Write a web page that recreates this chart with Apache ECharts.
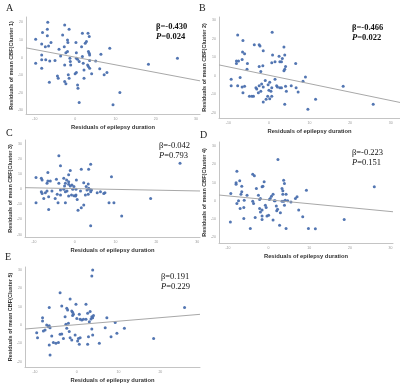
<!DOCTYPE html>
<html>
<head>
<meta charset="utf-8">
<script src="https://cdn.jsdelivr.net/npm/echarts@6/dist/echarts.min.js"></script>
<style>
  html, body { margin: 0; padding: 0; background: #fff; }
  #chart { width: 400px; height: 387px; }
</style>
</head>
<body>
<div id="chart"></div>
<script>
// residuals: [epilepsy duration, mean CBF]
const clusterA = [
  [-6.8, 20.0], [-8.1, 14.2], [-6.9, 16.0], [-6.9, 12.3], [-9.8, 10.4], [-8.3, 7.7], [-7.4, 6.2], [-6.6, 6.6],
  [-6.0, 8.5], [-8.3, 1.5], [-9.8, -3.2], [-8.3, -1.3], [-7.3, -1.3], [-6.3, -1.9], [-5.0, -1.7], [-8.3, -6.0],
  [-6.4, -14.0], [-4.4, -10.4], [-4.2, -11.7], [-4.0, 4.7], [-3.6, 0.9], [-2.7, 6.2], [-2.6, 18.5], [-3.1, 12.8],
  [-1.9, 10.0], [-1.8, 8.5], [-1.5, 16.0], [-1.9, 3.4], [-2.3, 2.8], [-2.6, -4.2], [-2.6, -13.6], [-2.3, -14.9],
  [-1.3, -0.4], [-1.2, -2.3], [-1.1, -4.2], [-1.7, -9.8], [-1.5, -11.7], [0.2, 8.5], [0.3, 2.8], [0.3, -0.4],
  [0.6, -0.9], [1.0, -2.3], [0.0, -9.2], [0.3, -8.5], [0.6, -15.5], [0.7, -17.4], [1.0, -25.5], [1.8, 13.8],
  [1.6, 6.2], [1.8, 0.6], [2.0, -3.2], [2.2, -7.0], [2.5, 8.1], [2.8, 9.1], [3.2, 13.8], [3.5, 11.9],
  [3.3, 3.4], [3.5, 2.5], [3.6, 1.5], [3.6, -1.7], [3.1, -4.2], [3.3, -5.1], [3.6, -6.0], [2.2, -11.7],
  [4.1, -9.2], [5.1, -1.9], [6.1, -6.4], [6.4, 1.9], [7.2, -9.8], [7.9, -8.5], [8.6, 5.3], [9.4, -26.8],
  [11.1, -19.8], [18.2, -3.8], [25.4, -0.4]
];
const clusterB = [
  [-7.7, 22.1], [-6.4, 19.1], [0.8, 23.5], [-3.6, 16.8], [-2.4, 16.8], [-2.2, 16.1], [-1.4, 13.5], [-6.5, 12.9],
  [-6.0, 12.0], [-5.3, 6.7], [-8.0, 8.0], [-7.5, 8.0], [-8.0, 6.7], [-6.6, 8.8], [-7.1, -0.9], [-9.3, -1.8],
  [-9.3, -5.3], [-7.7, -5.3], [-6.6, -6.0], [-6.0, -5.7], [-6.4, -9.2], [-4.8, -11.0], [-4.2, -11.0], [-3.8, -11.0],
  [-3.2, -6.5], [-2.6, -9.2], [-2.0, -8.3], [-3.0, -7.1], [-2.4, -5.3], [-1.8, -4.4], [-1.4, -6.0], [-2.4, 5.0],
  [-2.0, 2.3], [-1.5, 5.5], [-1.4, -14.2], [-0.7, -12.7], [-0.3, -11.0], [0.2, -12.4], [0.7, -11.0], [-0.9, -2.5],
  [0.2, -3.5], [-0.2, -4.8], [0.0, -7.8], [0.7, -6.5], [0.5, -8.3], [0.7, 7.1], [0.9, 11.2], [1.5, 7.6],
  [2.5, 10.6], [2.7, 7.6], [3.1, 7.6], [3.3, 9.4], [3.9, 11.2], [3.7, 15.6], [3.9, 3.5], [3.7, 2.8],
  [4.1, 5.0], [1.9, -5.3], [1.5, -1.8], [2.1, -6.0], [2.7, -6.5], [3.1, -6.5], [4.1, -5.7], [4.3, -8.3],
  [3.9, -15.4], [5.5, -5.3], [6.7, -6.5], [7.2, -8.8], [6.6, 6.7], [8.4, -3.0], [9.0, -0.7], [9.6, -18.1],
  [11.5, -12.7], [18.3, -5.7], [25.7, -15.4], [-5.4, 3.5]
];
const clusterC = [
  [-3.9, 22.2], [-3.5, 15.6], [3.9, 16.7], [3.4, 13.3], [1.6, 13.3], [-1.1, 12.4], [-6.6, 11.1], [-1.5, 9.6],
  [-2.0, 6.2], [-2.7, 7.3], [-1.5, 5.1], [0.4, 6.2], [-0.7, 2.9], [-9.5, 7.8], [-8.2, 7.3], [-8.0, 6.2],
  [-6.8, 4.0], [-6.6, 5.6], [-6.0, 5.6], [-4.5, 6.7], [-3.9, 4.0], [-2.3, 4.0], [-2.5, 2.2], [-1.5, 3.3],
  [-1.1, 2.2], [-0.2, 1.8], [0.3, 0.0], [2.2, 4.4], [2.8, 1.8], [3.3, 3.6], [3.4, 0.7], [3.6, 0.0],
  [4.1, -0.4], [3.9, -1.6], [3.0, -0.4], [1.4, -1.1], [2.6, -3.8], [0.3, -3.8], [0.2, -4.4], [0.6, -6.7],
  [-0.2, -4.2], [2.2, -10.4], [1.6, -12.2], [0.8, -13.8], [-9.5, -8.9], [-8.2, -1.6], [-8.0, -2.7], [-7.6, -6.0],
  [-7.2, -2.2], [-6.4, -4.9], [-6.4, -13.3], [-6.8, -1.1], [-5.6, -1.1], [-4.8, -6.0], [-4.3, -3.3], [-4.1, -8.9],
  [-3.5, -3.8], [-2.7, 0.0], [-2.3, -1.6], [-2.3, -8.9], [-0.8, -3.8], [-1.5, -4.4], [-0.5, 0.0], [3.3, -3.3],
  [3.9, -24.2], [5.5, -2.2], [6.3, -1.6], [7.1, -2.7], [7.4, -2.2], [9.0, 8.4], [8.4, -8.9], [9.6, -8.9],
  [11.5, -17.6], [18.6, -6.0], [25.8, 17.3], [-3.5, -0.4], [-1.9, -1.1]
];
const clusterD = [
  [2.3, 22.8], [-7.8, 16.3], [-3.9, 14.7], [-3.5, 13.8], [-8.0, 9.9], [-7.1, 11.0], [-8.0, 9.2], [-6.6, 8.1],
  [-6.6, 5.0], [-6.8, 3.7], [-9.3, 4.0], [-5.3, 3.1], [-6.0, 0.4], [-7.8, -1.5], [-7.4, 0.0], [-6.1, -3.7],
  [-7.0, -4.2], [-9.4, -11.6], [-6.1, -9.7], [-4.5, -15.2], [-3.9, -0.2], [-3.7, -1.5], [-3.0, 6.8], [-2.5, 3.1],
  [-2.0, 1.3], [-2.2, 0.7], [-1.6, 7.7], [-1.4, 8.1], [-1.1, 10.5], [-2.2, -4.2], [-2.0, -6.1], [-1.6, -8.4],
  [-1.6, -10.3], [-0.8, -2.4], [-0.6, -3.7], [-0.4, -8.4], [0.0, -7.9], [0.2, 0.7], [0.4, 1.3], [0.7, 2.6],
  [1.1, 3.7], [1.4, 0.0], [1.1, -10.6], [1.6, 0.0], [1.9, -2.9], [2.0, -5.5], [2.2, -4.6], [2.7, -13.4],
  [2.9, -6.6], [3.3, 6.8], [3.5, 5.5], [3.5, 3.7], [3.7, 11.4], [3.9, 9.5], [3.7, -0.2], [4.1, 0.4],
  [3.9, -2.4], [4.3, 3.7], [4.3, -15.2], [3.3, -0.2], [4.7, 0.0], [5.5, -0.6], [6.6, 1.3], [7.0, 2.2],
  [7.4, -5.1], [8.4, -8.8], [9.3, 5.9], [9.8, -15.2], [11.5, -15.4], [18.6, -10.3], [26.0, 7.7], [-3.3, -9.2],
  [-1.6, -5.1]
];
const clusterE = [
  [3.8, 30.0], [3.6, 26.7], [-4.0, 17.6], [-1.6, 14.2], [-0.2, 11.3], [2.2, 11.3], [-3.6, 10.4], [-6.6, 9.5],
  [-2.4, 9.1], [-2.2, 8.2], [-1.2, 7.6], [-1.0, 6.9], [-0.8, 5.8], [-1.0, 5.1], [-2.8, 4.5], [0.0, 3.6],
  [0.6, 5.8], [0.8, 3.1], [1.2, 2.7], [1.6, 3.1], [2.6, 6.4], [3.2, 7.3], [3.6, 4.5], [3.8, 4.0],
  [4.0, 5.1], [3.4, 3.3], [3.0, 1.8], [-8.2, 4.0], [-8.2, 2.2], [-7.2, 0.0], [-6.6, -0.4], [-6.4, -1.5],
  [-6.8, -0.9], [-7.6, -2.7], [-8.0, -3.3], [-9.6, -4.2], [-9.4, -6.9], [-6.0, -6.0], [-5.6, -9.6], [-5.0, -10.0],
  [-6.4, -16.4], [-6.6, -10.9], [-4.4, -9.5], [-4.0, -5.1], [-3.6, -4.9], [-3.2, -7.3], [-2.4, -1.8], [-2.0, 0.9],
  [-2.6, 0.4], [-1.8, -3.6], [-1.6, -6.9], [-1.2, -8.2], [-0.4, -5.5], [0.2, -8.7], [0.6, -10.5], [0.4, -7.3],
  [0.8, -6.9], [2.6, -10.5], [2.8, -6.4], [3.6, -2.2], [3.8, -5.5], [5.4, -10.0], [6.8, -1.5], [7.2, 4.0],
  [8.2, -6.4], [9.2, 1.3], [9.6, -4.5], [11.4, -1.8], [18.4, -7.3], [25.8, 9.5], [2.2, 3.1]
];

// fitted lines (end points)
const fitA = [[-12.2, 5.5], [31, -13.2]];
const fitB = [[-12.3, 5.9], [32.3, -14.4]];
const fitC = [[-12.2, 1.1], [30.7, -1.1]];
const fitD = [[-12.2, 3.2], [30.6, -6.0]];
const fitE = [[-12.4, -2.2], [29.5, 5.8]];

const panelLetters = ['A', 'B', 'C', 'D', 'E'];
const clusterNames = ['Cluster 1', 'Cluster 2', 'Cluster 3', 'Cluster 4', 'Cluster 5'];
const betas = ['-0.430', '-0.466', '-0.042', '-0.223', '0.191'];
const pValues = ['0.024', '0.022', '0.793', '0.151', '0.229'];

const xRanges = [[-12.2, 31], [-12.3, 32.3], [-12.2, 30.7], [-12.2, 30.6], [-12.4, 29.5]];
const yRanges = [[-32, 23], [-22.8, 31.8], [-31.6, 32.7], [-23.2, 32.4], [-22.9, 31.6]];

const chart = echarts.init(document.getElementById('chart'));

const grids = [
  { left: 26, top: 17, width: 174, height: 97 },
  { left: 219, top: 17, width: 181, height: 101 },
  { left: 25, top: 140, width: 175, height: 97 },
  { left: 219, top: 142, width: 174, height: 101 },
  { left: 25, top: 267, width: 175, height: 100 }
];
const statPos = [[156, 27], [352, 28], [159, 146], [352, 153], [161, 277]];
const letterPos = [[10, 8], [203, 8], [10, 133], [204, 135], [9, 257]];

const tickLabel = v => (Math.abs(v % 10) < 1e-6 ? String(v) : '');
const axisLineColor = '#c4c4c4';

const xAxes = [], yAxes = [], series = [], graphics = [];
const clusters = [clusterA, clusterB, clusterC, clusterD, clusterE];
const fits = [fitA, fitB, fitC, fitD, fitE];

for (let i = 0; i < 5; i++) {
  xAxes.push({
    gridIndex: i, type: 'value', min: xRanges[i][0], max: xRanges[i][1], splitNumber: 5,
    name: 'Residuals of epilepsy duration', nameLocation: 'middle', nameGap: 10,
    nameTextStyle: { fontSize: 5.8, fontWeight: 'bold', color: '#333', fontFamily: 'Liberation Sans' },
    axisLine: { onZero: false, lineStyle: { color: axisLineColor, width: 1 } },
    axisTick: { show: false },
    splitLine: { show: false },
    axisLabel: { fontSize: 3.5, color: '#999', margin: 3, formatter: tickLabel, showMinLabel: false, showMaxLabel: false }
  });
  yAxes.push({
    gridIndex: i, type: 'value', min: yRanges[i][0], max: yRanges[i][1], splitNumber: 5,
    name: 'Residuals of mean CBF(' + clusterNames[i] + ')', nameLocation: 'middle', nameGap: 9,
    nameTextStyle: { fontSize: 5.5, fontWeight: 'bold', color: '#333', fontFamily: 'Liberation Sans' },
    axisLine: { show: true, onZero: false, lineStyle: { color: axisLineColor, width: 1 } },
    axisTick: { show: false },
    splitLine: { show: false },
    axisLabel: { fontSize: 3.5, color: '#999', margin: 3, formatter: tickLabel, showMinLabel: false, showMaxLabel: false }
  });
  series.push({
    type: 'scatter', xAxisIndex: i, yAxisIndex: i, data: clusters[i],
    symbolSize: 3, itemStyle: { color: '#4a6fae', opacity: 0.95 }, silent: true
  });
  series.push({
    type: 'line', xAxisIndex: i, yAxisIndex: i, data: fits[i], symbol: 'none',
    lineStyle: { color: '#a8a8a8', width: 1 }, silent: true
  });
  const bold = i < 2 ? 'bold' : 'normal';
  graphics.push({
    type: 'text', left: statPos[i][0], top: statPos[i][1] - 5,
    style: {
      text: '\u03b2=' + betas[i], fill: '#111',
      font: bold + ' 8.5px "Liberation Serif"'
    }
  });
  graphics.push({
    type: 'text', left: statPos[i][0], top: statPos[i][1] + 5,
    style: {
      text: '{p|P}=' + pValues[i], fill: '#111',
      font: bold + ' 8.5px "Liberation Serif"',
      rich: { p: { fontStyle: 'italic', fontWeight: bold, fontSize: 8.5, fontFamily: 'Liberation Serif', fill: '#111' } }
    }
  });
  graphics.push({
    type: 'text', left: letterPos[i][0] - 4, top: letterPos[i][1] - 5,
    style: { text: panelLetters[i], fill: '#222', font: '10px "Liberation Serif"' }
  });
}

chart.setOption({
  animation: false,
  backgroundColor: '#fff',
  grid: grids,
  xAxis: xAxes,
  yAxis: yAxes,
  series: series,
  graphic: graphics
});
</script>
</body>
</html>
